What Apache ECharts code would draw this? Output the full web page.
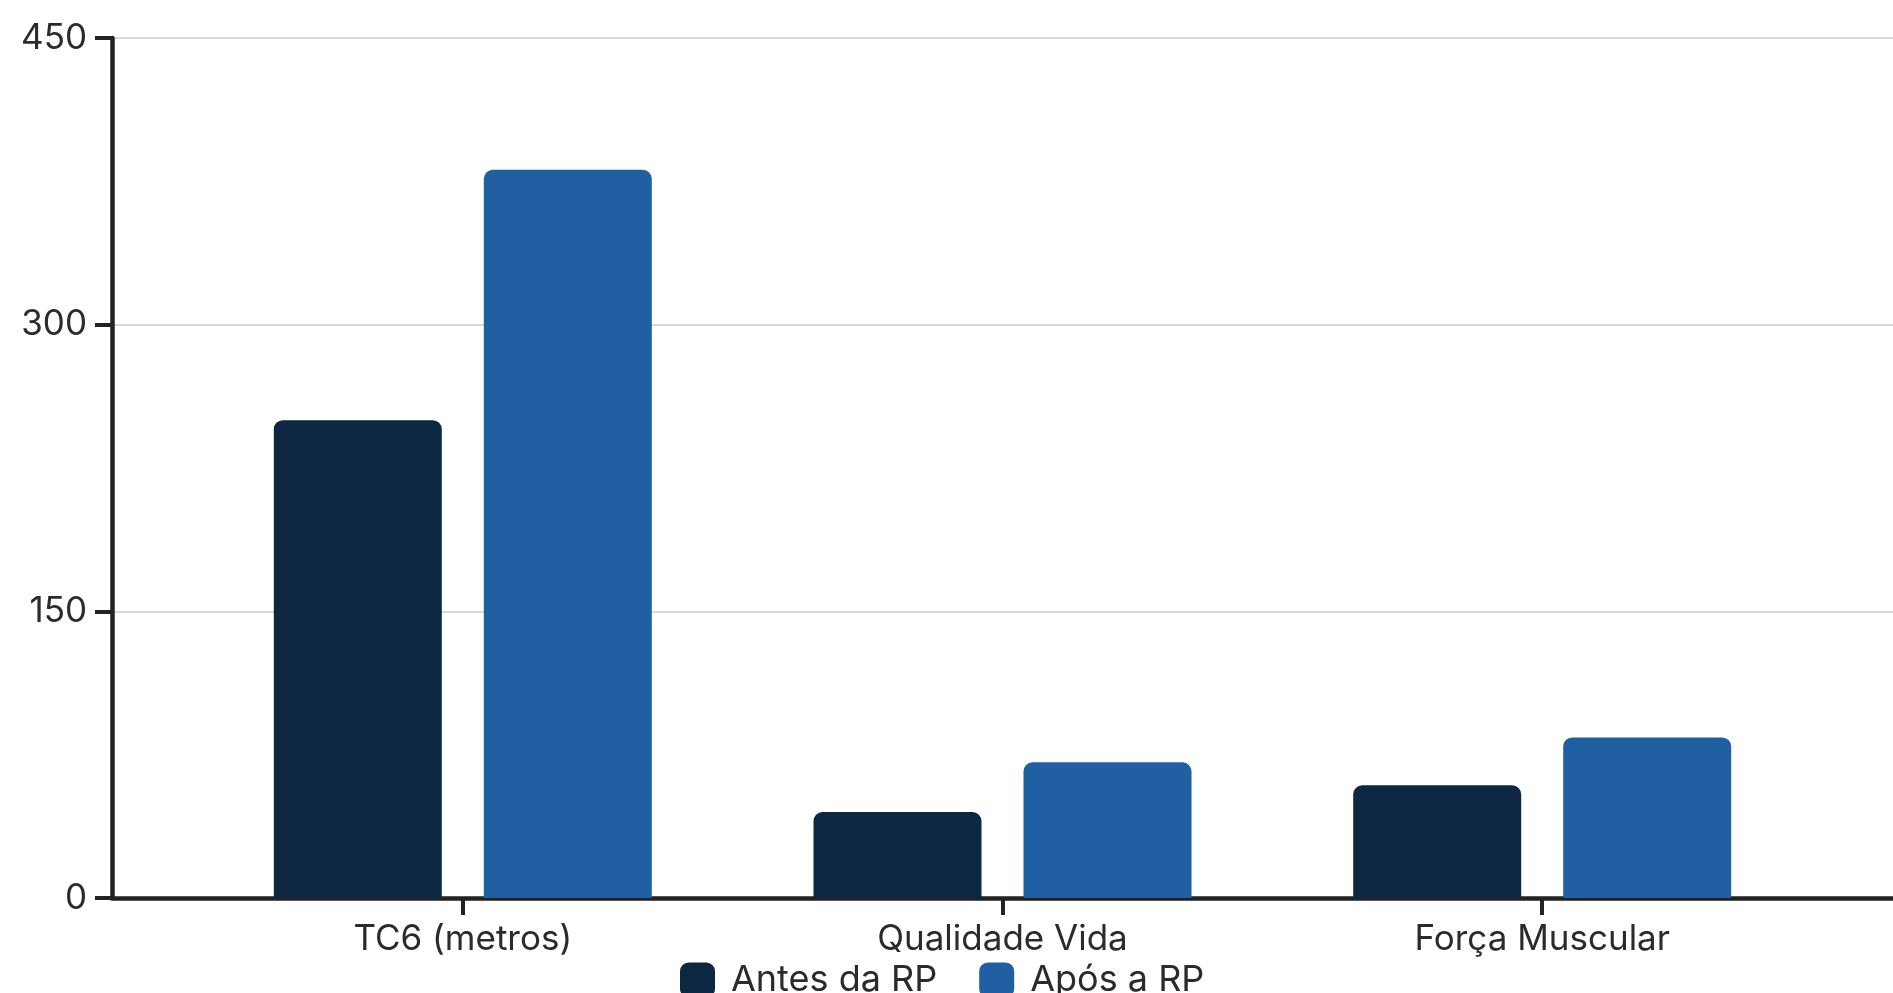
<!DOCTYPE html>
<html>
<head>
<meta charset="utf-8">
<script src="https://cdn.jsdelivr.net/npm/echarts@6/dist/echarts.min.js"></script>
<style>
html,body{margin:0;padding:0;background:#fff;}
#chart{width:1893px;height:993px;}
</style>
</head>
<body>
<div id="chart"></div>
<script>
const categories = ['TC6 (metros)', 'Qualidade Vida', 'Força Muscular'];
const seriesNames = ['Antes da RP', 'Após a RP'];
const antes = [250, 45, 59];
const apos = [381, 71, 84];
const yTicks = [0, 150, 300, 450];

const FONT = 'Inter, "Noto Sans", sans-serif';
const chart = echarts.init(document.getElementById('chart'));
const catIdx = categories.map((_, i) => i);

chart.setOption({
  animation: false,
  backgroundColor: '#ffffff',
  textStyle: { fontFamily: FONT },
  grid: { left: 112, right: 0, top: 38, bottom: 95, containLabel: false },
  legend: {
    data: seriesNames,
    left: 680,
    top: 962,
    padding: 0,
    itemWidth: 35,
    itemHeight: 35,
    itemGap: 42,
    icon: 'roundRect',
    textStyle: { fontSize: 36, color: '#2b2b2b', fontFamily: FONT, padding: [0, 0, 0, 11] }
  },
  xAxis: {
    type: 'value',
    min: -0.65,
    max: 2.65,
    splitLine: { show: false },
    axisLine: { show: true, onZero: false, lineStyle: { color: '#222222', width: 4.5 } },
    axisTick: { show: true, customValues: catIdx, length: 17, lineStyle: { color: '#222222', width: 4 } },
    axisLabel: {
      customValues: catIdx,
      formatter: v => categories[Math.round(v)] || '',
      fontSize: 35, color: '#2b2b2b', fontFamily: FONT, margin: 24
    }
  },
  yAxis: {
    type: 'value',
    min: yTicks[0],
    max: yTicks[yTicks.length - 1],
    interval: 150,
    axisLine: { show: true, onZero: false, lineStyle: { color: '#222222', width: 4.5 } },
    axisTick: { show: true, length: 17, lineStyle: { color: '#222222', width: 4 } },
    axisLabel: { fontSize: 35, color: '#2b2b2b', fontFamily: FONT, margin: 25 },
    splitLine: { show: true, lineStyle: { color: '#d9d9d9', width: 2 } }
  },
  series: [
    {
      name: seriesNames[0],
      type: 'bar',
      data: antes.map((v, i) => [catIdx[i], v]),
      barWidth: 168,
      barGap: '25%',
      itemStyle: { color: '#0d2742', borderRadius: [9, 9, 0, 0] }
    },
    {
      name: seriesNames[1],
      type: 'bar',
      data: apos.map((v, i) => [catIdx[i], v]),
      barWidth: 168,
      barGap: '25%',
      itemStyle: { color: '#1f5fa2', borderRadius: [9, 9, 0, 0] }
    }
  ]
});
</script>
</body>
</html>
